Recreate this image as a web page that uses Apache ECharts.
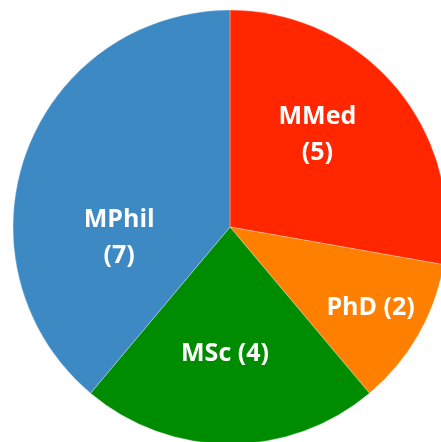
<!DOCTYPE html>
<html>
<head>
<meta charset="utf-8">
<script src="https://cdn.jsdelivr.net/npm/echarts@6/dist/echarts.min.js"></script>
<style>
  html, body { margin: 0; padding: 0; background: #fff; }
  #chart { width: 441px; height: 442px; }
</style>
</head>
<body>
<div id="chart"></div>
<script>
// degree counts, clockwise from 12 o'clock
const categories = ["MMed", "PhD", "MSc", "MPhil"];
const values = [5, 2, 4, 7];
const labelText = ["MMed\n(5)", "PhD (2)", "MSc (4)", "MPhil\n(7)"];

const colors = ["#FF2600", "#FF7F00", "#008C00", "#3C89C4"];
// nudge labels to where the original puts them
const labelShift = [
  [2, -20],
  [44, 25],
  [-5, 15],
  [-6, 49],
];

const chart = echarts.init(document.getElementById("chart"), null, {
  renderer: "canvas",
});

chart.setOption({
  animation: false,
  series: [
    {
      type: "pie",
      center: [230, 227],
      radius: [0, 217],
      startAngle: 90,
      clockwise: true,
      avoidLabelOverlap: false,
      itemStyle: {
        borderColor: "rgba(255,255,255,0.6)",
        borderWidth: 0.5,
      },
      label: {
        show: true,
        position: "inside",
        color: "#fff",
        fontFamily: "Open Sans",
        fontWeight: "bold",
        fontSize: 25,
        lineHeight: 36,
        formatter: (p) => labelText[p.dataIndex],
      },
      labelLine: { show: false },
      labelLayout: (p) => ({
        dx: labelShift[p.dataIndex][0],
        dy: labelShift[p.dataIndex][1],
      }),
      data: categories.map((name, i) => ({
        name: name,
        value: values[i],
        itemStyle: { color: colors[i] },
      })),
    },
  ],
});
</script>
</body>
</html>
